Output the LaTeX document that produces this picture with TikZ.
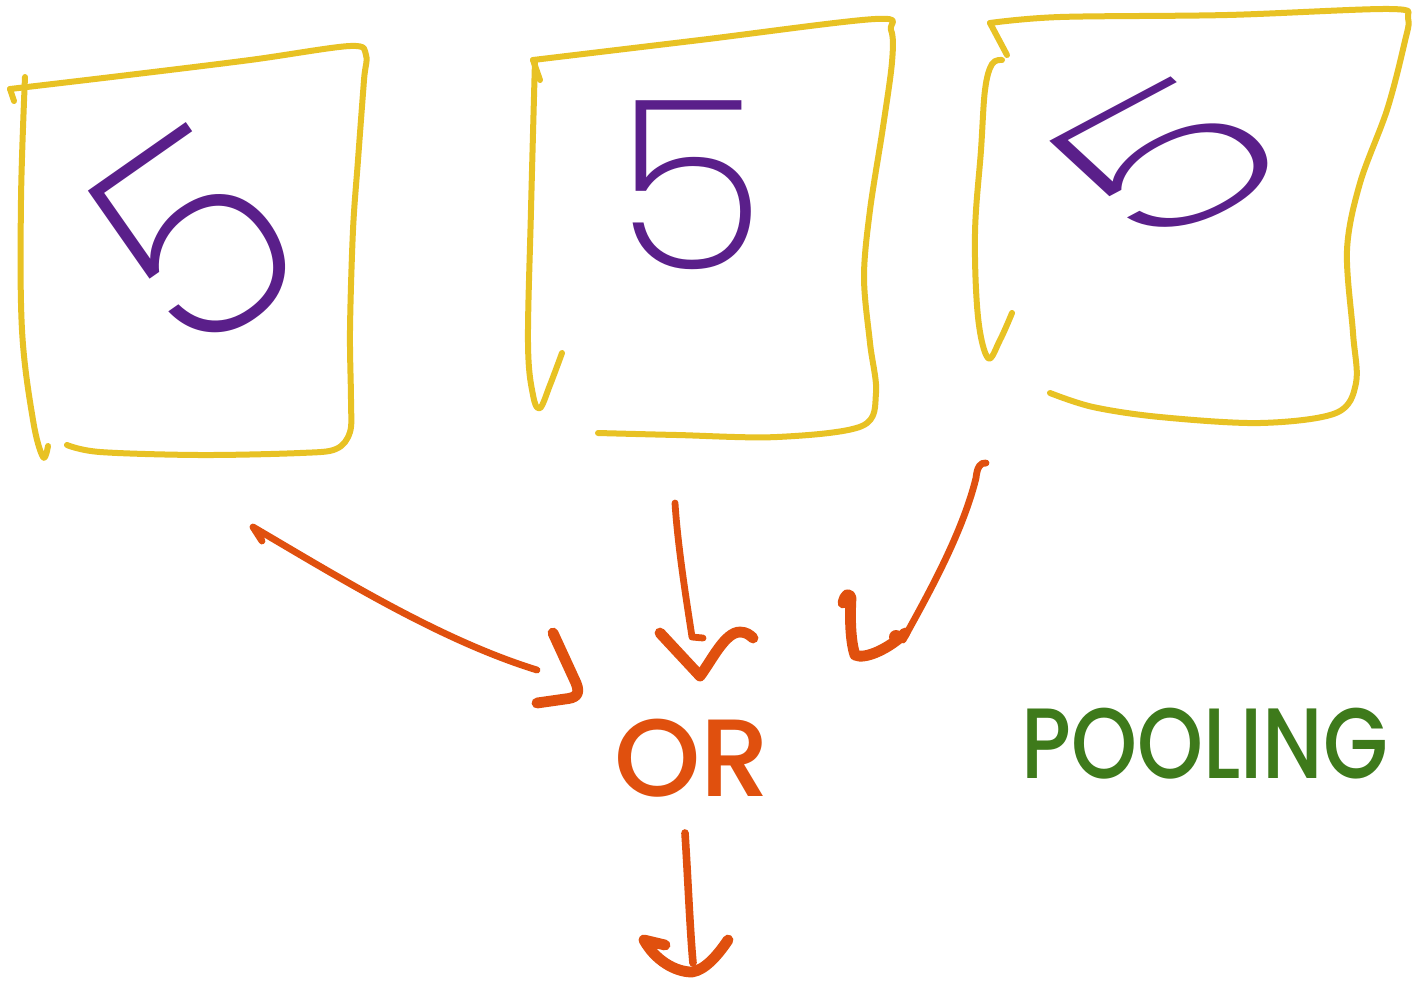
\documentclass[tikz,border=0pt]{standalone}
\usepackage{fontspec}
\setmainfont{Poppins}
% thin face for the digits, falling back to the regular face
\IfFontExistsTF{Poppins ExtraLight}
  {\newfontfamily\digitfont{Poppins ExtraLight}}
  {\IfFontExistsTF{Poppins-ExtraLight.otf}
     {\newfontfamily\digitfont{Poppins-ExtraLight.otf}}
     {\IfFontExistsTF{Poppins Light}
        {\newfontfamily\digitfont{Poppins Light}}
        {\newfontfamily\digitfont{Poppins}}}}
\IfFontExistsTF{Poppins Medium}
  {\newfontfamily\wordfont{Poppins Medium}}
  {\IfFontExistsTF{Poppins-Medium.otf}
     {\newfontfamily\wordfont{Poppins-Medium.otf}}
     {\newfontfamily\wordfont{Poppins}}}

\definecolor{boxyellow}{HTML}{E8C224}
\definecolor{inkpurple}{HTML}{5A1F8A}
\definecolor{inkorange}{HTML}{E0500E}
\definecolor{inkgreen}{HTML}{3E7A1B}

\tikzset{
  frame/.style={draw=boxyellow, line width=3pt, line cap=round, line join=round},
  shaft/.style={draw=inkorange, line width=3.4pt, line cap=round, line join=round},
  tip/.style={draw=inkorange, line width=5.4pt, line cap=round, line join=round},
  digit/.style={text=inkpurple, inner sep=0pt},
  word/.style={inner sep=0pt},
}

\begin{document}
\begin{tikzpicture}[x=0.5pt,y=-0.5pt]
\useasboundingbox (0,0) rectangle (1414,982);
\fill[white] (0,0) rectangle (1414,982);

% ---- three hand-drawn frames ----
% left frame
\draw[frame] (14,101) -- (10,89);
\draw[frame] plot[smooth, tension=0.55] coordinates {
  (10,89) (120,76) (250,60) (350,46) (366,55) (364,80) (358,160)
  (353,230) (350,330) (351,400) (350,432) (336,449) (300,453)
  (200,455) (100,452) (67,445)};
\draw[frame] plot[smooth, tension=0.6] coordinates {
  (25,77) (21,200) (22,330) (33,420) (43,457) (48,446)};

% middle frame
\draw[frame] (540,80) -- (533,60);
\draw[frame] plot[smooth, tension=0.55] coordinates {
  (533,60) (700,40) (875,19) (891,30) (892,62) (883,127) (870,210)
  (864,277) (870,343) (876,393) (862,426) (777,437) (677,435) (598,433)};
\draw[frame] plot[smooth, tension=0.6] coordinates {
  (535,60) (531,210) (528,343) (533,395) (540,408) (550,385) (562,353)};

% right frame
\draw[frame] (1007,55) -- (990,23);
\draw[frame] plot[smooth, tension=0.55] coordinates {
  (990,23) (1060,17) (1227,15) (1390,9) (1408,18) (1404,45) (1387,110)
  (1360,183) (1347,250) (1353,333) (1356,383) (1336,413) (1260,423)
  (1160,417) (1093,407) (1050,393)};
\draw[frame] plot[smooth, tension=0.6] coordinates {
  (1002,60) (992,64) (985,90) (981,150) (975,233) (978,317) (988,358)
  (1000,340) (1012,313)};

% ---- the digit in three poses ----
\node[digit, font=\digitfont\fontsize{140}{140}\selectfont, rotate=35]
  (fiveA) at (196,238) {5};
\node[digit, font=\digitfont\fontsize{118}{118}\selectfont, xscale=1.05]
  (fiveB) at (690,185) {5};
\node[digit, font=\digitfont\fontsize{134}{134}\selectfont,
      rotate=28, xslant=-0.35, xscale=1.2, yscale=0.75]
  (fiveC) at (1168,160) {5};

% ---- labels ----
\node[word, text=inkorange, font=\wordfont\fontsize{55}{55}\selectfont]
  (orword) at (692,758) {OR};
\node[word, text=inkgreen, font=\wordfont\fontsize{50}{50}\selectfont, xscale=0.84]
  (pooling) at (1205,744) {POOLING};

% ---- arrow end points ----
\coordinate (leftfrom)  at (253,527);
\coordinate (leftto)    at (537,670);
\coordinate (midfrom)   at (675,503);
\coordinate (midto)     at (692,637);
\coordinate (rightfrom) at (986,463);
\coordinate (rightto)   at (903,640);
\coordinate (outfrom)   at (685,833);
\coordinate (outto)     at (693,963);

% left arrow
\draw[shaft] (262,541) -- (leftfrom)
  .. controls (340,578) and (440,640) .. (leftto);
\draw[tip] (553,633) -- (576,683) .. controls (581,695) and (575,698) .. (565,699) -- (537,703);

% middle arrow
\draw[shaft] (midfrom) .. controls (678,550) and (688,610) .. (midto) -- (703,638);
\draw[tip] (660,633) -- (700,676) .. controls (712,660) and (725,632) .. (740,632)
  .. controls (746,632) and (750,635) .. (753,638);

% right arrow
\draw[shaft] (rightfrom) .. controls (980,462) and (977,468) .. (976,478)
  .. controls (962,535) and (925,600) .. (rightto);
\draw[tip] (905,633) .. controls (890,648) and (865,660) .. (855,655)
  .. controls (850,640) and (850,615) .. (851,598)
  .. controls (849,592) and (845,594) .. (843,603);
\fill[inkorange] (896,637) circle (7);

% output arrow
\draw[shaft, line width=3.8pt] (outfrom) .. controls (688,880) and (690,930) .. (outto);
\draw[tip] (665,945) -- (644,940) .. controls (655,960) and (675,972) .. (692,972)
  .. controls (705,970) and (718,955) .. (728,940);
\end{tikzpicture}
\end{document}
